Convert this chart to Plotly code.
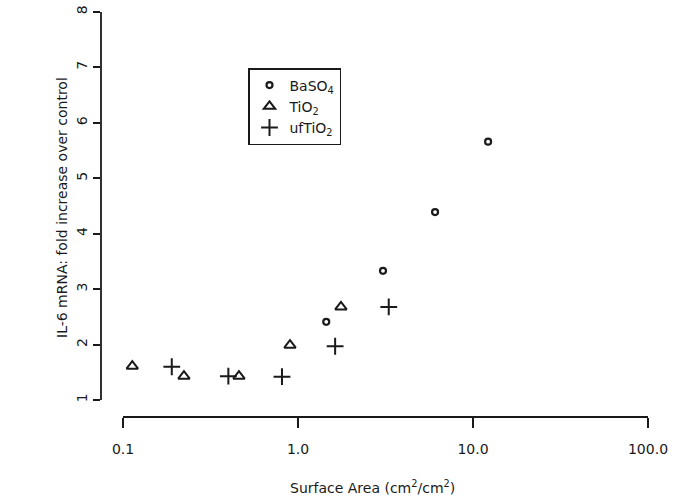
import math
import plotly.graph_objects as go

# ---- data ----
baso4_x = [1.45, 3.06, 6.07, 12.2]
baso4_y = [2.41, 3.33, 4.39, 5.66]

tio2_x = [0.113, 0.223, 0.46, 0.90, 1.76]
tio2_y = [1.61, 1.43, 1.43, 1.99, 2.68]

uftio2_x = [0.19, 0.40, 0.81, 1.63, 3.3]
uftio2_y = [1.60, 1.43, 1.42, 1.97, 2.68]

x_tickvals = [0.1, 1, 10, 100]
x_ticktext = ["0.1", "1.0", "10.0", "100.0"]
y_tickvals = [1, 2, 3, 4, 5, 6, 7, 8]

FONT = "DejaVu Sans, Liberation Sans, Arial, sans-serif"
INK = "#1a1a1a"
FS = 14

fig = go.Figure()
fig.add_trace(go.Scatter(
    x=baso4_x, y=baso4_y, mode="markers", name="BaSO<sub>4</sub>",
    marker=dict(symbol="circle-open", size=6, color=INK, line=dict(width=2.2, color=INK)),
))
fig.add_trace(go.Scatter(
    x=tio2_x, y=tio2_y, mode="markers", name="TiO<sub>2</sub>",
    marker=dict(symbol="triangle-up-open", size=10, color=INK, line=dict(width=2, color=INK)),
))
fig.add_trace(go.Scatter(
    x=uftio2_x, y=uftio2_y, mode="markers", name="ufTiO<sub>2</sub>",
    marker=dict(symbol="cross-thin-open", size=12, color=INK, line=dict(width=2, color=INK)),
))

# plot area geometry: left 101, right 670, top 8, bottom 417 (px)
L, R, T, B = 101, 11, 8, 81
W, H = 681, 498
pw = W - L - R
ph = H - T - B
dec_px = 175.0  # pixels per decade
unit_px = 55.43  # pixels per y unit
lx0 = math.log10(x_tickvals[0]) - 22 / dec_px
lx1 = math.log10(x_tickvals[-1]) + 22 / dec_px
y0 = y_tickvals[0] - 17 / unit_px
y1 = y_tickvals[-1] + 4 / unit_px

fig.update_layout(
    width=W, height=H,
    margin=dict(l=L, r=R, t=T, b=B, pad=0),
    paper_bgcolor="white", plot_bgcolor="white",
    font=dict(family=FONT, size=FS, color=INK),
    showlegend=True,
    legend=dict(
        x=(248 - L) / pw, y=(H - B - 68) / ph, xanchor="left", yanchor="top",
        bordercolor=INK, borderwidth=1.5, bgcolor="white",
        font=dict(family=FONT, size=FS, color=INK),
        itemwidth=30, tracegroupgap=0,
    ),
    xaxis=dict(
        type="log", range=[lx0, lx1], showgrid=False, zeroline=False, showline=False,
        tickmode="array", tickvals=x_tickvals, ticktext=x_ticktext,
        ticks="outside", ticklen=10, tickwidth=1.5, tickcolor=INK,
        ticklabelstandoff=9, automargin=False,
        tickfont=dict(family=FONT, size=FS, color=INK),
    ),
    yaxis=dict(
        range=[y0, y1], showgrid=False, zeroline=False, showline=False,
        tickmode="array", tickvals=y_tickvals, automargin=False,
        ticks="outside", ticklen=7, tickwidth=1.5, tickcolor=INK, tickangle=-90,
        tickfont=dict(family=FONT, size=FS, color=INK),
    ),
)

# detached R-style axis lines spanning only the tick range
fig.add_shape(type="line", xref="x", yref="paper",
              x0=x_tickvals[0], x1=x_tickvals[-1], y0=0, y1=0,
              line=dict(color=INK, width=1.8))
fig.add_shape(type="line", xref="paper", yref="y",
              x0=0, x1=0, y0=y_tickvals[0], y1=y_tickvals[-1],
              line=dict(color=INK, width=1.8))

# axis titles
fig.add_annotation(text="Surface Area (cm<sup>2</sup>/cm<sup>2</sup>)",
                   xref="paper", yref="paper", x=(372 - L) / pw, y=(H - B - 487) / ph,
                   xanchor="center", yanchor="middle", showarrow=False,
                   font=dict(family=FONT, size=FS, color=INK))
fig.add_annotation(text="IL-6 mRNA: fold increase over control",
                   xref="paper", yref="paper", x=(62 - L) / pw, y=(H - B - 208) / ph,
                   xanchor="center", yanchor="middle", showarrow=False, textangle=-90,
                   font=dict(family=FONT, size=FS, color=INK))

fig.write_html("out.html", config={"displayModeBar": False},
               post_script="document.body.style.margin='0';")
